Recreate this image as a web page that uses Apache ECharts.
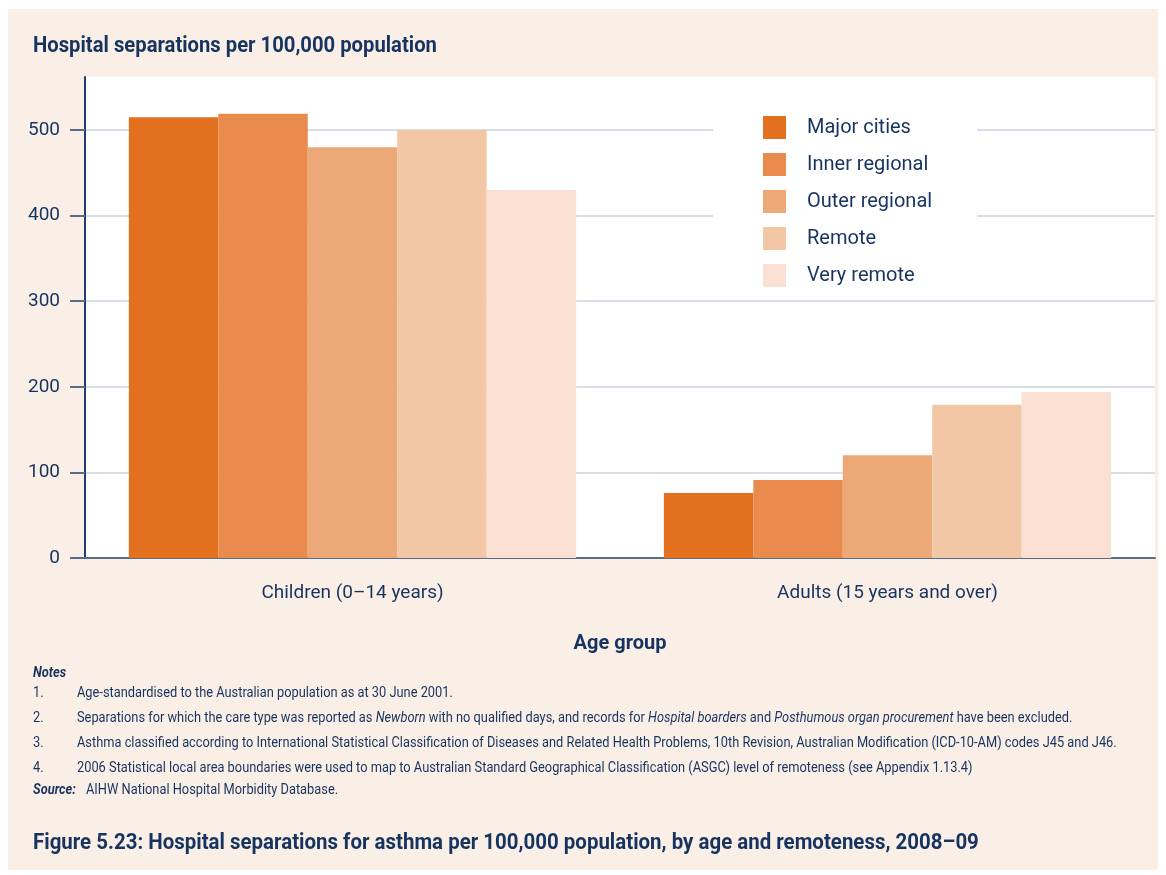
<!DOCTYPE html>
<html>
<head>
<meta charset="utf-8">
<script src="https://cdn.jsdelivr.net/npm/echarts@6/dist/echarts.min.js"></script>
<style>
html,body{margin:0;padding:0;background:#fff;}
#chart{width:1166px;height:875px;}
</style>
</head>
<body>
<div id="chart"></div>
<script>
const categories = ['Children (0\u201314 years)', 'Adults (15 years and over)'];
const seriesNames = ['Major cities', 'Inner regional', 'Outer regional', 'Remote', 'Very remote'];
const majorCities = [515, 76];
const innerRegional = [519, 91];
const outerRegional = [480, 120];
const remote = [500, 179];
const veryRemote = [430, 194];
const yTicks = [0, 100, 200, 300, 400, 500];
const colors = ['#E2701F', '#E88B4D', '#EDA878', '#F3C6A5', '#F9E0D2'];

const FONT = 'Roboto, "Open Sans", sans-serif';
const NAVY = '#17335f';
const values = [majorCities, innerRegional, outerRegional, remote, veryRemote];

const chart = echarts.init(document.getElementById('chart'), null, {renderer: 'canvas'});
const notes = [
  'Age-standardised to the Australian population as at 30 June 2001.',
  'Separations for which the care type was reported as {i|Newborn} with no qualified days, and records for {i|Hospital boarders} and {i|Posthumous organ procurement} have been excluded.',
  'Asthma classified according to International Statistical Classification of Diseases and Related Health Problems, 10th Revision, Australian Modification (ICD-10-AM) codes J45 and J46.',
  '2006 Statistical local area boundaries were used to map to Australian Standard Geographical Classification (ASGC) level of remoteness (see Appendix 1.13.4)'
];
const NS = 0.855;
const graphics = [
  {type: 'rect', z: -100, shape: {x: 8, y: 9, width: 1150, height: 861}, style: {fill: '#FAEFE7'}},
  {type: 'rect', z: 3, shape: {x: 713, y: 95, width: 264, height: 205}, style: {fill: '#ffffff'}},
  {type: 'text', x: 33, y: 46, scaleX: 0.92, style: {text: 'Hospital separations per 100,000 population', font: 'bold 22px ' + FONT, fill: NAVY, verticalAlign: 'middle'}},
  {type: 'text', x: 33, y: 673, scaleX: NS, style: {text: 'Notes', font: 'italic bold 15px ' + FONT, fill: NAVY, verticalAlign: 'middle'}},
  {type: 'text', x: 33, y: 790, scaleX: NS, style: {text: 'Source:', font: 'italic bold 15px ' + FONT, fill: NAVY, verticalAlign: 'middle'}},
  {type: 'text', x: 86, y: 790, scaleX: NS, style: {text: 'AIHW National Hospital Morbidity Database.', font: '15px ' + FONT, fill: NAVY, verticalAlign: 'middle'}},
  {type: 'text', x: 33, y: 843, scaleX: 0.93, style: {text: 'Figure 5.23: Hospital separations for asthma per 100,000 population, by age and remoteness, 2008\u201309', font: 'bold 22px ' + FONT, fill: NAVY, verticalAlign: 'middle'}}
];
notes.forEach(function (t, i) {
  const y = 693 + i * 25;
  graphics.push({type: 'text', x: 33, y: y, scaleX: NS, style: {text: (i + 1) + '.', font: '15px ' + FONT, fill: NAVY, verticalAlign: 'middle'}});
  graphics.push({type: 'text', x: 77, y: y, scaleX: NS, style: {text: t, font: '15px ' + FONT, fill: NAVY, verticalAlign: 'middle',
    rich: {i: {fontStyle: 'italic', fontSize: 15, fontFamily: FONT, fill: NAVY, color: NAVY}}}});
});

chart.setOption({
  backgroundColor: '#ffffff',
  animation: false,
  color: colors,
  grid: {left: 85, right: 11, top: 77, bottom: 317, show: true, backgroundColor: '#ffffff', borderWidth: 0, containLabel: false},
  legend: {
    data: seriesNames, orient: 'vertical', left: 758, top: 111,
    itemWidth: 23, itemHeight: 23, itemGap: 14, icon: 'rect',
    textStyle: {fontFamily: FONT, fontSize: 20, color: NAVY, padding: [0, 0, 0, 16]},
    z: 10
  },
  xAxis: {
    type: 'category', data: categories,
    axisLine: {lineStyle: {color: '#5d6b84', width: 2}},
    axisTick: {show: false},
    axisLabel: {fontFamily: FONT, fontSize: 19, color: NAVY, margin: 26},
    name: 'Age group', nameLocation: 'middle', nameGap: 76,
    nameTextStyle: {fontFamily: FONT, fontSize: 20, fontWeight: 'bold', color: NAVY}
  },
  yAxis: {
    type: 'value', min: 0, max: 562, interval: 100,
    axisLine: {show: true, lineStyle: {color: '#1f3d6e', width: 2}},
    axisTick: {show: true, length: 15, customValues: yTicks, lineStyle: {color: '#5d6b84', width: 2}},
    axisLabel: {fontFamily: FONT, fontSize: 19, color: NAVY, margin: 25, customValues: yTicks},
    splitLine: {show: true, lineStyle: {color: ['transparent', '#d8dee6', '#d8dee6', '#d8dee6', '#d8dee6', '#d8dee6', 'transparent'], width: 2}}
  },
  graphic: graphics,
  series: seriesNames.map(function (n, i) {
    return {name: n, type: 'bar', data: values[i], barGap: '0%', barCategoryGap: '16.4%', itemStyle: {color: colors[i]}};
  })
});
</script>
</body>
</html>
